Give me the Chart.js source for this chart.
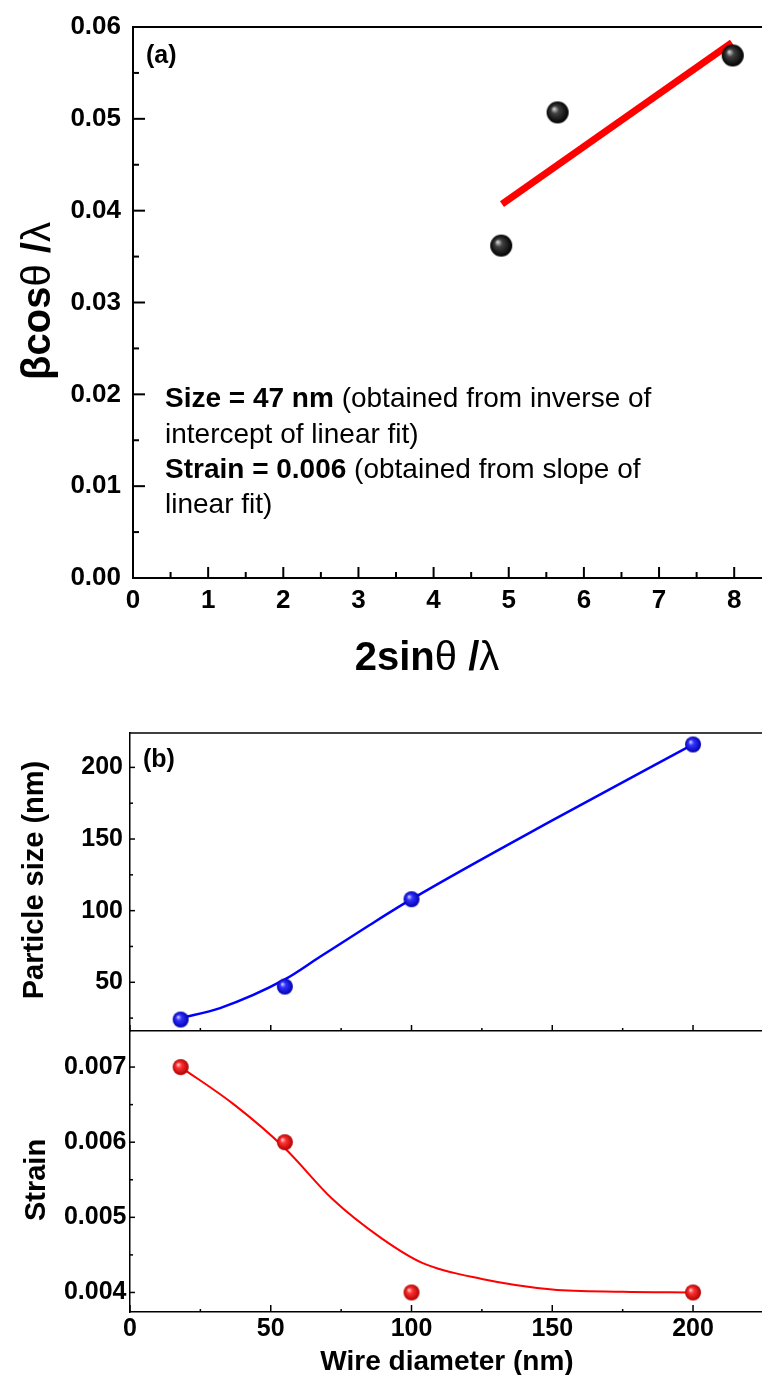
<!DOCTYPE html>
<html>
<head>
<meta charset="utf-8">
<script src="https://cdn.jsdelivr.net/npm/chart.js@4.4.0/dist/chart.umd.min.js"></script>
<style>
  body { margin: 0; background: #fff; }
  #wrap { position: relative; width: 762px; height: 1375px; overflow: hidden; background: #fff; }
  canvas { position: absolute; left: 0; }
</style>
</head>
<body>
<div id="wrap">
  <canvas id="chart_a" width="762" height="700" style="top:0px"></canvas>
  <canvas id="chart_size" width="762" height="370" style="top:700px"></canvas>
  <canvas id="chart_strain" width="762" height="375" style="top:1000px"></canvas>
</div>
<script>
// (a) Williamson-Hall points and the linear fit
var whX = [4.9, 5.65, 7.98];
var whY = [0.0362, 0.0507, 0.0569];
var fitX = [4.91, 7.97];
var fitY = [0.0407, 0.0583];

// (b) particle size and strain vs wire diameter
var wireDiameter = [18, 55, 100, 200];
var particleSize = [24, 47, 108, 216];
var strainVal = [0.007, 0.006, 0.004, 0.004];

// guide curves
var sizeCurveX = [18, 32, 55, 67.5, 85, 100, 150, 200];
var sizeCurveY = [25, 32, 52, 67.8, 89.8, 108, 163, 216];
var strainCurveX = [18, 37, 55, 72, 89, 104, 125, 150, 175, 200];
var strainCurveY = [0.007, 0.0065, 0.00592, 0.00524, 0.00473, 0.00439, 0.00418, 0.00404, 0.00401, 0.004];

var FONT = "'Liberation Sans', Arial, sans-serif";
Chart.defaults.font.family = FONT;
Chart.defaults.color = '#000';

function pts(xs, ys) {
  return xs.map(function (x, i) { return {x: x, y: ys[i]}; });
}

// shaded ball used as point marker
function ball(r, light, mid, dark) {
  var c = document.createElement('canvas');
  c.width = c.height = 2 * r + 2;
  var g = c.getContext('2d');
  var cx = r + 1, cy = r + 1;
  var grad = g.createRadialGradient(cx - r * 0.35, cy - r * 0.35, 0, cx, cy, r);
  grad.addColorStop(0, light);
  grad.addColorStop(0.35, mid);
  grad.addColorStop(1, dark);
  g.fillStyle = grad;
  g.beginPath();
  g.arc(cx, cy, r, 0, Math.PI * 2);
  g.fill();
  return c;
}

// inward major/minor ticks + top frame line
function frame(cfg) {
  return {
    id: 'frame',
    beforeDatasetsDraw: function (chart) {
      var ctx = chart.ctx, area = chart.chartArea;
      ctx.save();
      ctx.strokeStyle = '#000';
      ctx.lineWidth = cfg.lineWidth;
      cfg.axes.forEach(function (a) {
        var sc = chart.scales[a.id];
        var n0 = Math.ceil(sc.min / a.minor - 1e-9), n1 = Math.floor(sc.max / a.minor + 1e-9);
        for (var i = n0; i <= n1; i++) {
          var v = i * a.minor;
          var isMajor = Math.abs(v / a.major - Math.round(v / a.major)) < 1e-6;
          var len = isMajor ? a.majorLen : a.minorLen;
          var p = sc.getPixelForValue(v);
          ctx.beginPath();
          if (sc.isHorizontal()) {
            ctx.moveTo(p, area.bottom);
            ctx.lineTo(p, area.bottom - len);
          } else {
            ctx.moveTo(area.left, p);
            ctx.lineTo(area.left + len, p);
          }
          ctx.stroke();
        }
      });
      if (cfg.top) {
        ctx.beginPath();
        ctx.moveTo(area.left, area.top);
        ctx.lineTo(area.right, area.top);
        ctx.stroke();
      }
      ctx.restore();
    }
  };
}

// texts with mixed bold/normal runs
function texts(items) {
  return {
    id: 'texts',
    afterDraw: function (chart) {
      var ctx = chart.ctx;
      items.forEach(function (it) {
        ctx.save();
        ctx.translate(it.x, it.y);
        if (it.rotate) ctx.rotate(-Math.PI / 2);
        ctx.fillStyle = '#000';
        ctx.textBaseline = 'alphabetic';
        ctx.textAlign = 'left';
        var widths = it.parts.map(function (p) {
          ctx.font = p[1] + ' ' + it.size + 'px ' + FONT;
          return ctx.measureText(p[0]).width;
        });
        var total = widths.reduce(function (a, b) { return a + b; }, 0);
        var x = it.center ? -total / 2 : 0;
        it.parts.forEach(function (p, i) {
          ctx.font = p[1] + ' ' + it.size + 'px ' + FONT;
          ctx.fillText(p[0], x, 0);
          x += widths[i];
        });
        ctx.restore();
      });
    }
  };
}

function tickFont(size) {
  return {size: size, weight: 'bold', lineHeight: 1};
}

// fixed axis box sizes so the plot areas land where the figure has them
function fixHeight(h) {
  return function (s) { s.height = h; s.paddingLeft = 0; s.paddingRight = 0; };
}
function fixWidth(w) {
  return function (s) { s.width = w; };
}

var blackBall = ball(11, '#e6e6e6', '#404040', '#000000');
var blueBall = ball(8, '#e4e4ff', '#3333ff', '#0000b0');
var redBall = ball(8, '#ffe4e4', '#ff3333', '#b00000');

// ---------- (a) ----------
new Chart(document.getElementById('chart_a'), {
  type: 'scatter',
  data: {
    datasets: [{
      type: 'line',
      data: pts(fitX, fitY),
      borderColor: '#ff0000',
      borderWidth: 7,
      pointRadius: 0,
      fill: false,
      order: 2,
      clip: false
    }, {
      data: pts(whX, whY),
      pointStyle: blackBall,
      pointRadius: 11,
      order: 1,
      clip: false
    }]
  },
  options: {
    responsive: false,
    animation: false,
    layout: {autoPadding: false, padding: {top: 27, left: 0, right: 0, bottom: 0}},
    plugins: {legend: {display: false}, tooltip: {enabled: false}},
    scales: {
      x: {
        type: 'linear', min: 0, max: 8.37,
        ticks: {stepSize: 1, includeBounds: false, padding: 10, maxRotation: 0, font: tickFont(26)},
        grid: {display: false, drawTicks: false},
        border: {display: true, color: '#000', width: 2},
        afterFit: fixHeight(122)
      },
      y: {
        type: 'linear', min: 0, max: 0.06,
        ticks: {stepSize: 0.01, includeBounds: false, padding: 12, font: tickFont(26),
          callback: function (v) { return v.toFixed(2); }},
        grid: {display: false, drawTicks: false},
        border: {display: true, color: '#000', width: 2},
        afterFit: fixWidth(133)
      }
    }
  },
  plugins: [
    frame({lineWidth: 2, top: true, axes: [
      {id: 'x', major: 1, minor: 0.5, majorLen: 11, minorLen: 6},
      {id: 'y', major: 0.01, minor: 0.005, majorLen: 12, minorLen: 6}
    ]}),
    texts([
      {x: 146, y: 63, size: 25, parts: [['(a)', 'bold']]},
      {x: 165, y: 407, size: 28, parts: [['Size = 47 nm', 'bold'], [' (obtained from inverse of', 'normal']]},
      {x: 165, y: 443, size: 28, parts: [['intercept of linear fit)', 'normal']]},
      {x: 165, y: 478, size: 28, parts: [['Strain = 0.006', 'bold'], [' (obtained from slope of', 'normal']]},
      {x: 165, y: 513, size: 28, parts: [['linear fit)', 'normal']]},
      {x: 427, y: 670, size: 40, center: true,
        parts: [['2sin', 'bold'], ['\u03b8', 'normal'], [' /', 'bold'], ['\u03bb', 'normal']]},
      {x: 50, y: 301, size: 40, center: true, rotate: true,
        parts: [['\u03b2cos', 'bold'], ['\u03b8', 'normal'], [' /', 'bold'], ['\u03bb', 'normal']]}
    ])
  ]
});

// ---------- (b) top: particle size ----------
new Chart(document.getElementById('chart_size'), {
  type: 'scatter',
  data: {
    datasets: [{
      type: 'line',
      data: pts(sizeCurveX, sizeCurveY),
      borderColor: '#0000ff',
      borderWidth: 2.5,
      pointRadius: 0,
      cubicInterpolationMode: 'monotone',
      fill: false,
      order: 2,
      clip: false
    }, {
      data: pts(wireDiameter, particleSize),
      pointStyle: blueBall,
      pointRadius: 8,
      order: 1,
      clip: false
    }]
  },
  options: {
    responsive: false,
    animation: false,
    layout: {autoPadding: false, padding: {top: 33, left: 0, right: 0, bottom: 0}},
    plugins: {legend: {display: false}, tooltip: {enabled: false}},
    scales: {
      x: {
        type: 'linear', min: 0, max: 224.5,
        ticks: {display: false, stepSize: 50},
        grid: {display: false, drawTicks: false},
        border: {display: true, color: '#000', width: 1.5},
        afterFit: fixHeight(39)
      },
      y: {
        type: 'linear', min: 16, max: 224,
        ticks: {stepSize: 50, includeBounds: false, padding: 7, font: tickFont(25)},
        grid: {display: false, drawTicks: false},
        border: {display: true, color: '#000', width: 1.5},
        afterFit: fixWidth(130)
      }
    }
  },
  plugins: [
    frame({lineWidth: 1.5, top: true, axes: [
      {id: 'x', major: 50, minor: 25, majorLen: 6, minorLen: 3},
      {id: 'y', major: 50, minor: 25, majorLen: 5, minorLen: 3}
    ]}),
    texts([
      {x: 143, y: 67, size: 25, parts: [['(b)', 'bold']]},
      {x: 43, y: 180, size: 29, center: true, rotate: true, parts: [['Particle size (nm)', 'bold']]}
    ])
  ]
});

// ---------- (b) bottom: strain ----------
new Chart(document.getElementById('chart_strain'), {
  type: 'scatter',
  data: {
    datasets: [{
      type: 'line',
      data: pts(strainCurveX, strainCurveY),
      borderColor: '#ff0000',
      borderWidth: 2,
      pointRadius: 0,
      cubicInterpolationMode: 'monotone',
      fill: false,
      order: 2,
      clip: false
    }, {
      data: pts(wireDiameter, strainVal),
      pointStyle: redBall,
      pointRadius: 8,
      order: 1,
      clip: false
    }]
  },
  options: {
    responsive: false,
    animation: false,
    layout: {autoPadding: false, padding: {top: 31, left: 0, right: 0, bottom: 0}},
    plugins: {legend: {display: false}, tooltip: {enabled: false}},
    scales: {
      x: {
        type: 'linear', min: 0, max: 224.5,
        ticks: {stepSize: 50, includeBounds: false, padding: 5, maxRotation: 0, font: tickFont(25)},
        grid: {display: false, drawTicks: false},
        border: {display: true, color: '#000', width: 1.5},
        afterFit: fixHeight(63)
      },
      y: {
        type: 'linear', min: 0.00374, max: 0.00748,
        ticks: {stepSize: 0.001, includeBounds: false, padding: 3.5, font: tickFont(25),
          callback: function (v) { return v.toFixed(3); }},
        grid: {display: false, drawTicks: false},
        border: {display: true, color: '#000', width: 1.5},
        afterFit: fixWidth(130)
      }
    }
  },
  plugins: [
    frame({lineWidth: 1.5, top: false, axes: [
      {id: 'x', major: 50, minor: 25, majorLen: 7, minorLen: 3},
      {id: 'y', major: 0.001, minor: 0.0005, majorLen: 5, minorLen: 3}
    ]}),
    texts([
      {x: 45, y: 180, size: 29, center: true, rotate: true, parts: [['Strain', 'bold']]},
      {x: 447, y: 370, size: 28, center: true, parts: [['Wire diameter (nm)', 'bold']]}
    ])
  ]
});
</script>
</body>
</html>
